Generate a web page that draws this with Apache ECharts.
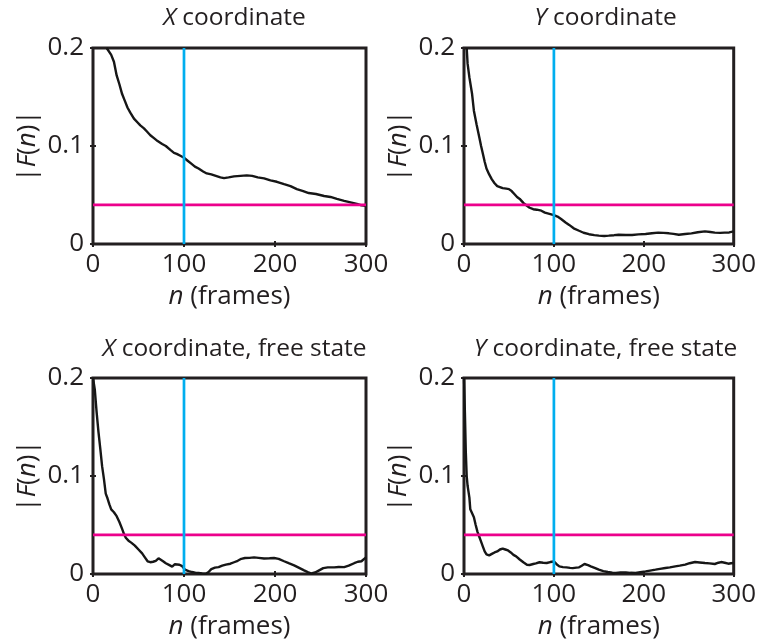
<!DOCTYPE html>
<html>
<head>
<meta charset="utf-8">
<script src="https://cdn.jsdelivr.net/npm/echarts@6/dist/echarts.min.js"></script>
<style>
html,body{margin:0;padding:0;background:#fff;}
#chart{width:759px;height:644px;}
</style>
</head>
<body>
<div id="chart"></div>
<script>
// ---- data ----
const panelTitles = ['X coordinate', 'Y coordinate', 'X coordinate, free state', 'Y coordinate, free state'];
const xTicks = [0, 100, 200, 300];
const yTicks = [0, 0.1, 0.2];
const threshold = 0.04;
const cutoffFrame = 100;

const xCoordN = [15,20,23,26,29,32,35,38,41,45,49,52,56,59,63,67,71,76,80,85,89,92,96,100,104,108,112,116,121,125,130,135,140,144,149,155,162,169,175,181,188,195,202,210,217,224,231,237,245,254,261,268,276,283,290,295,300];
const xCoordF = [0.200,0.193,0.186,0.172,0.163,0.153,0.146,0.139,0.134,0.128,0.124,0.121,0.118,0.115,0.111,0.108,0.105,0.102,0.100,0.096,0.093,0.092,0.090,0.088,0.085,0.082,0.079,0.077,0.074,0.072,0.071,0.0695,0.068,0.0672,0.068,0.069,0.0695,0.070,0.0695,0.068,0.067,0.065,0.0635,0.061,0.059,0.056,0.054,0.052,0.051,0.049,0.048,0.046,0.044,0.0425,0.041,0.0395,0.039];

const yCoordN = [3,4,6,9,11,14,17,19,21,23,25,28,31,34,37,40,43,47,50,53,56,59,62,66,70,73,77,81,86,90,94,100,104,108,113,117,122,128,133,139,145,150,156,161,167,172,180,187,194,202,209,216,222,228,233,239,246,253,260,268,274,279,285,290,295,300];
const yCoordF = [0.200,0.184,0.170,0.153,0.136,0.122,0.109,0.100,0.092,0.084,0.077,0.071,0.066,0.062,0.059,0.058,0.057,0.0565,0.056,0.054,0.051,0.048,0.046,0.042,0.039,0.037,0.0355,0.035,0.034,0.032,0.031,0.0295,0.028,0.0255,0.022,0.0195,0.016,0.0135,0.0115,0.010,0.009,0.0085,0.0082,0.0085,0.009,0.0095,0.0092,0.0092,0.0098,0.0102,0.011,0.0116,0.0113,0.0109,0.0103,0.0095,0.0102,0.0109,0.012,0.0129,0.0122,0.0116,0.0113,0.0116,0.0118,0.0129];

const xFreeN = [0,2,4,6,8,10,12,14,16,18,20,23,26,29,32,34,36,39,42,46,50,54,57,60,63,66,69,72,74,77,80,84,87,90,92,95,98,101,105,109,113,116,120,124,127,130,134,138,142,146,151,155,159,163,167,172,177,182,188,194,199,204,210,215,221,226,232,236,240,244,248,253,258,265,270,276,281,287,291,295,298,300];
const xFreeF = [0.200,0.188,0.165,0.145,0.128,0.110,0.097,0.082,0.077,0.071,0.066,0.063,0.059,0.053,0.046,0.041,0.037,0.034,0.032,0.029,0.025,0.021,0.017,0.013,0.012,0.0125,0.0135,0.016,0.015,0.013,0.011,0.009,0.0075,0.010,0.011,0.0095,0.008,0.0045,0.003,0.002,0.0012,0.001,0.0005,0.0003,0.002,0.005,0.0065,0.007,0.0085,0.0095,0.0105,0.012,0.0135,0.0155,0.0163,0.0165,0.017,0.0165,0.0158,0.016,0.0163,0.0155,0.013,0.011,0.0088,0.0065,0.0037,0.002,0.0005,0.0015,0.0035,0.006,0.0068,0.0068,0.0072,0.007,0.0085,0.011,0.0125,0.013,0.0155,0.017];

const yFreeN = [0,1,2,3,4,5,6,7,9,11,13,15,17,19,21,23,25,28,31,34,37,40,43,46,49,52,55,58,62,66,70,73,77,80,84,88,92,96,100,103,106,110,114,118,121,125,128,131,134,138,141,146,150,155,160,165,169,174,180,185,191,196,202,207,213,218,224,229,235,240,246,251,257,262,268,273,279,283,286,290,294,297,300];
const yFreeF = [0.200,0.165,0.125,0.100,0.090,0.084,0.078,0.066,0.062,0.058,0.050,0.043,0.038,0.033,0.028,0.023,0.020,0.019,0.0205,0.022,0.023,0.025,0.026,0.025,0.024,0.022,0.0195,0.018,0.0148,0.012,0.0095,0.0092,0.0102,0.0108,0.012,0.0115,0.0112,0.0122,0.0128,0.010,0.0078,0.007,0.0068,0.0063,0.006,0.0065,0.0068,0.0085,0.0102,0.009,0.0078,0.006,0.0044,0.003,0.002,0.0013,0.001,0.0015,0.0017,0.0012,0.001,0.0018,0.0027,0.0035,0.0044,0.0052,0.0061,0.0068,0.0078,0.0085,0.0095,0.011,0.0122,0.0118,0.0112,0.0108,0.0102,0.0115,0.0122,0.0115,0.0105,0.011,0.0112];

const seriesN = [xCoordN, yCoordN, xFreeN, yFreeN];
const seriesF = [xCoordF, yCoordF, xFreeF, yFreeF];

// ---- layout ----
const FONT = '"Open Sans", "Liberation Sans", sans-serif';
const TXT = '#231f20';
const grids = [
  {left: 93, top: 48, width: 273, height: 196},
  {left: 464, top: 48, width: 273, height: 196},
  {left: 93, top: 378, width: 273, height: 196},
  {left: 464, top: 378, width: 273, height: 196}
];

const option = {
  animation: false,
  backgroundColor: '#fff',
  title: [], grid: [], xAxis: [], yAxis: [], series: []
};

const richItalic = {i: {fontStyle: 'italic', fontFamily: FONT, fontSize: 26, color: TXT}};

grids.forEach((g, k) => {
  option.grid.push(Object.assign({show: true, borderColor: '#231f20', borderWidth: 3, backgroundColor: 'transparent'}, g));
  const parts = panelTitles[k].split(' ');
  const first = parts.shift();
  option.title.push({
    text: '{i|' + first + '} ' + parts.join(' '),
    left: g.left + g.width / 2,
    top: k < 2 ? 1 : 332,
    textAlign: 'center',
    textStyle: {
      fontFamily: FONT, fontSize: 24.5, fontWeight: 'normal', color: TXT,
      rich: {i: {fontStyle: 'italic', fontFamily: FONT, fontSize: 24.5, color: TXT}}
    }
  });
  option.xAxis.push({
    type: 'value', gridIndex: k, min: xTicks[0], max: xTicks[xTicks.length - 1], interval: xTicks[1] - xTicks[0],
    position: 'bottom',
    axisLine: {show: false},
    axisTick: {show: true, inside: true, length: 3, lineStyle: {color: '#231f20', width: 2}},
    splitLine: {show: false},
    axisLabel: {fontFamily: FONT, fontSize: 26, color: TXT, margin: 8},
    name: '{i|n} (frames)', nameLocation: 'middle', nameGap: 40,
    nameTextStyle: {fontFamily: FONT, fontSize: 26, color: TXT, rich: richItalic}
  });
  option.yAxis.push({
    type: 'value', gridIndex: k, min: yTicks[0], max: yTicks[yTicks.length - 1], interval: yTicks[1] - yTicks[0],
    position: 'left',
    axisLine: {show: false},
    axisTick: {show: true, inside: true, length: 3, lineStyle: {color: '#231f20', width: 2}},
    splitLine: {show: false},
    axisLabel: {fontFamily: FONT, fontSize: 26, color: TXT, margin: 9},
    name: '|{i|F}({i|n})|', nameLocation: 'middle', nameGap: 52, nameRotate: 90,
    nameTextStyle: {fontFamily: FONT, fontSize: 26, color: TXT, rich: richItalic}
  });
});
grids.forEach((g, k) => {
  option.xAxis.push({
    type: 'value', gridIndex: k, min: xTicks[0], max: xTicks[xTicks.length - 1], interval: xTicks[1] - xTicks[0],
    position: 'top', axisLine: {show: false}, axisLabel: {show: false}, splitLine: {show: false},
    axisTick: {show: true, inside: true, length: 3, lineStyle: {color: '#231f20', width: 2}}
  });
  option.yAxis.push({
    type: 'value', gridIndex: k, min: yTicks[0], max: yTicks[yTicks.length - 1], interval: yTicks[1] - yTicks[0],
    position: 'right', axisLine: {show: false}, axisLabel: {show: false}, splitLine: {show: false},
    axisTick: {show: true, inside: true, length: 3, lineStyle: {color: '#231f20', width: 2}}
  });
});

grids.forEach((g, k) => {
  const n = seriesN[k], f = seriesF[k];
  option.series.push({
    type: 'line', xAxisIndex: k, yAxisIndex: k, showSymbol: false, symbol: 'none', clip: true,
    lineStyle: {color: '#161616', width: 2.4}, z: 2,
    data: n.map((v, j) => [v, f[j]])
  });
  option.series.push({
    type: 'line', xAxisIndex: k, yAxisIndex: k, showSymbol: false, symbol: 'none',
    lineStyle: {color: '#ec008c', width: 2.7}, z: 3,
    data: [[xTicks[0], threshold], [xTicks[xTicks.length - 1], threshold]]
  });
  option.series.push({
    type: 'line', xAxisIndex: k, yAxisIndex: k, showSymbol: false, symbol: 'none',
    lineStyle: {color: '#00aeef', width: 2.7}, z: 4,
    data: [[cutoffFrame, yTicks[0]], [cutoffFrame, yTicks[yTicks.length - 1]]]
  });
});

const chart = echarts.init(document.getElementById('chart'), null, {renderer: 'canvas'});
chart.setOption(option);
</script>
</body>
</html>
